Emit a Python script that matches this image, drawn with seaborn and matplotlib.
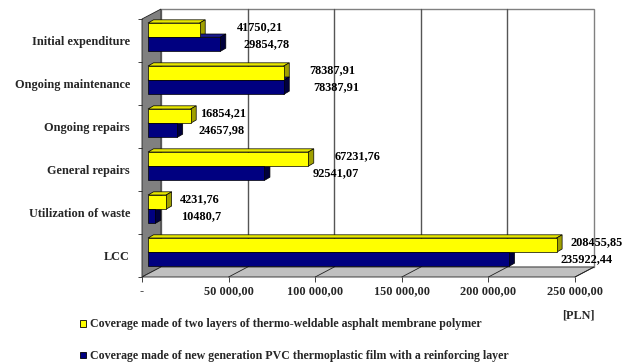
import numpy as np
import pandas as pd
import matplotlib
matplotlib.use("Agg")
import matplotlib.pyplot as plt
import seaborn as sns
from matplotlib.patches import Polygon, Rectangle, Patch
from matplotlib.lines import Line2D
from matplotlib.transforms import ScaledTranslation

# ---------------- data ----------------
categories = ["Initial expenditure", "Ongoing maintenance", "Ongoing repairs",
              "General repairs", "Utilization of waste", "LCC"]
series_names = ["Coverage made of two layers of thermo-weldable asphalt membrane polymer",
                "Coverage made of new generation PVC thermoplastic film with a reinforcing layer"]
yellow_values = [29854.78, 78387.91, 24657.98, 92541.07, 10480.70, 235922.44]
navy_values = [41750.21, 78387.91, 16854.21, 67231.76, 4231.76, 208455.85]
top_labels = ["41750,21", "78387,91", "16854,21", "67231,76", "4231,76", "208455,85"]
bottom_labels = ["29854,78", "78387,91", "24657,98", "92541,07", "10480,7", "235922,44"]
x_ticks = [0, 50000, 100000, 150000, 200000, 250000]
x_tick_labels = ["-", "50 000,00", "100 000,00", "150 000,00", "200 000,00", "250 000,00"]
unit_label = "[PLN]"

# label x offsets (pixels, layout only)
top_dx = [23, 31, 15, 32, 20, 20]
bot_dx = [29, 35, 14, 10, 21, 10]

colors = ["#FFFF00", "#000080"]
side_colors = ["#A0A000", "#00003C"]
top_colors = ["#E6E600", "#1A1A90"]

df = pd.DataFrame({
    "category": categories * 2,
    "series": [series_names[0]] * len(categories) + [series_names[1]] * len(categories),
    "value": yellow_values + navy_values,
})

sns.set_theme(style="white")
plt.rcParams["font.family"] = ["Liberation Serif", "DejaVu Serif"]
plt.rcParams["font.weight"] = "bold"
FS = 8.8
LFS = 8.6

W, H, DPI = 635, 363, 100
fig = plt.figure(figsize=(W / DPI, H / DPI), dpi=DPI)
fig.patch.set_facecolor("white")
ax_l, ax_r, ax_t, ax_b = 142, 575, 19, 277
ax = fig.add_axes([ax_l / W, (H - ax_b) / H, (ax_r - ax_l) / W, (ax_b - ax_t) / H])
ax.patch.set_visible(False)

sns.barplot(data=df, y="category", x="value", hue="series", orient="h",
            order=categories, hue_order=series_names, palette=colors,
            saturation=1, width=0.66, edgecolor="black", linewidth=0.5,
            ax=ax, legend=False, zorder=3)

ax.set_xlim(0, 250000)
ax.set_ylim(len(categories) - 0.5, -0.5)

axw_px = ax_r - ax_l
axh_px = ax_b - ax_t
def px_to_data(dx, dy_up):
    return dx * 250000 / axw_px, -dy_up * len(categories) / axh_px

# ---------- 3D walls ----------
back_dx, back_dy = 19, 10
ox, oy = back_dx / axw_px, back_dy / axh_px
back_off = ax.transAxes + ScaledTranslation(back_dx / DPI, back_dy / DPI, fig.dpi_scale_trans)
ax.add_patch(Rectangle((0, 0), 1, 1, transform=back_off, facecolor="white",
                       edgecolor="#808080", lw=1.0, zorder=0.1, clip_on=False))
back_data = ax.transData + ScaledTranslation(back_dx / DPI, back_dy / DPI, fig.dpi_scale_trans)
for xv in x_ticks[1:-1]:
    ax.add_line(Line2D([xv, xv], [-0.5, len(categories) - 0.5], transform=back_data,
                       color="#555555", lw=1.0, zorder=0.2, clip_on=False))
ax.add_patch(Polygon([(0, 0), (0, 1), (ox, 1 + oy), (ox, oy)], closed=True,
                     transform=ax.transAxes, facecolor="#808080", edgecolor="#222222",
                     lw=0.6, zorder=0.3, clip_on=False))
ax.add_patch(Polygon([(0, 0), (1, 0), (1 + ox, oy), (ox, oy)], closed=True,
                     transform=ax.transAxes, facecolor="#C0C0C0", edgecolor="#222222",
                     lw=0.6, zorder=0.3, clip_on=False))
for xv in x_ticks[1:]:
    xa = xv / 250000
    ax.add_line(Line2D([xa, xa + ox], [0, oy], transform=ax.transAxes,
                       color="#222222", lw=0.6, zorder=0.35, clip_on=False))

# ---------- 3D bars ----------
bar_shift = ScaledTranslation(6 / DPI, 3.3 / DPI, fig.dpi_scale_trans)
bar_trans = ax.transData + bar_shift
ddx, ddy = px_to_data(5.5, 3.2)
n = len(categories)
for i, p in enumerate(list(ax.patches)[: 2 * n]):
    s = i // n
    p.set_transform(bar_trans)
    x0, y0, w, h = p.get_x(), p.get_y(), p.get_width(), p.get_height()
    x1, ytop, ybot = x0 + w, y0, y0 + h
    top = Polygon([(x0, ytop), (x1, ytop), (x1 + ddx, ytop + ddy), (x0 + ddx, ytop + ddy)],
                  closed=True, transform=bar_trans, facecolor=top_colors[s],
                  edgecolor="black", lw=0.5, zorder=2, clip_on=False)
    side = Polygon([(x1, ybot), (x1, ytop), (x1 + ddx, ytop + ddy), (x1 + ddx, ybot + ddy)],
                   closed=True, transform=bar_trans, facecolor=side_colors[s],
                   edgecolor="black", lw=0.5, zorder=2, clip_on=False)
    ax.add_patch(top)
    ax.add_patch(side)
    p.set_clip_on(False)

# ---------- data labels ----------
for i in range(n):
    m = max(yellow_values[i], navy_values[i])
    ax.annotate(top_labels[i], xy=(m, i), xycoords="data",
                xytext=(top_dx[i] * 72 / DPI, 13.5 * 72 / DPI), textcoords="offset points",
                ha="left", va="center", fontsize=FS, fontweight="bold", color="black",
                annotation_clip=False, zorder=5)
    ax.annotate(bottom_labels[i], xy=(m, i), xycoords="data",
                xytext=(bot_dx[i] * 72 / DPI, -3.3 * 72 / DPI), textcoords="offset points",
                ha="left", va="center", fontsize=FS, fontweight="bold", color="black",
                annotation_clip=False, zorder=5)

# ---------- axes ----------
for sp in ax.spines.values():
    sp.set_visible(False)
ax.set_xticks(x_ticks)
ax.set_xticklabels(x_tick_labels, fontsize=FS, fontweight="bold")
ax.set_yticks(range(n))
ax.set_yticklabels(categories, fontsize=FS, fontweight="bold")
ax.set_yticks(np.arange(-0.5, n, 1.0), minor=True)
ax.tick_params(axis="x", which="major", direction="out", length=3.6, width=0.6,
               color="#222222", pad=2.5, bottom=True)
ax.tick_params(axis="y", which="major", length=0, pad=8.6, left=True)
ax.tick_params(axis="y", which="minor", direction="out", length=3, width=0.6,
               color="#222222", left=True)
ax.set_xlabel("")
ax.set_ylabel("")
ax.grid(False)

# ---------- legend & unit ----------
handles = [Patch(facecolor=c, edgecolor="black", lw=0.6) for c in colors]
fig.legend(handles, series_names, loc="upper left",
           bbox_to_anchor=(80 / W, (H - 318.5) / H), frameon=False,
           handlelength=0.5, handleheight=0.5, handletextpad=0.35,
           labelspacing=1.65, borderpad=0, borderaxespad=0,
           prop={"family": "Liberation Serif", "weight": "bold", "size": LFS})
fig.text(578 / W, 1 - 315 / H, unit_label, ha="center", va="center",
         fontsize=FS, fontweight="bold")

fig.savefig("out.png", dpi=DPI, facecolor="white")
